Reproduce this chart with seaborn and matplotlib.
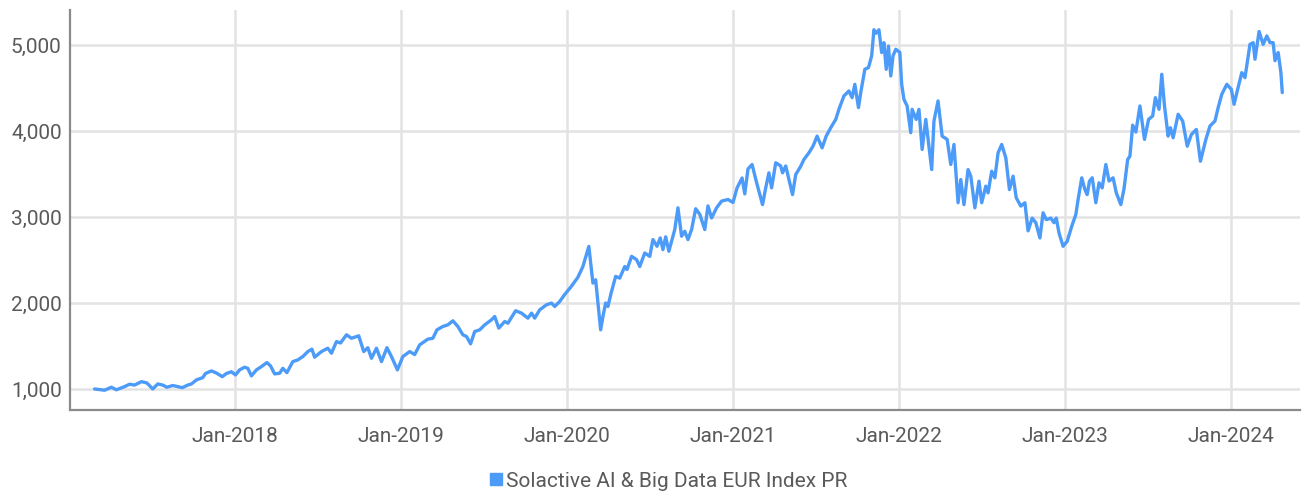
import pandas as pd
import numpy as np
import matplotlib
matplotlib.use("Agg")
import matplotlib.pyplot as plt
import matplotlib.dates as mdates
from matplotlib.ticker import FuncFormatter
from matplotlib.lines import Line2D
import seaborn as sns

# index level
dates = [
    "2017-02-27", "2017-03-21", "2017-04-05", "2017-04-16", "2017-05-04", "2017-05-15", "2017-05-26",
    "2017-06-10", "2017-06-22", "2017-07-05", "2017-07-16", "2017-07-27", "2017-08-05", "2017-08-18",
    "2017-09-08", "2017-09-20", "2017-09-28", "2017-10-09", "2017-10-23", "2017-10-29", "2017-11-11",
    "2017-11-22", "2017-12-05", "2017-12-14", "2017-12-25",
    "2018-01-03", "2018-01-12", "2018-01-23", "2018-01-30", "2018-02-07", "2018-02-18", "2018-03-01",
    "2018-03-13", "2018-03-21", "2018-03-30", "2018-04-10", "2018-04-17", "2018-04-26", "2018-05-09",
    "2018-05-20", "2018-05-31", "2018-06-11", "2018-06-20", "2018-06-26", "2018-07-11", "2018-07-25",
    "2018-08-02", "2018-08-13", "2018-08-22", "2018-09-04", "2018-09-15", "2018-10-01", "2018-10-12",
    "2018-10-21", "2018-10-29", "2018-11-09", "2018-11-20", "2018-12-02", "2018-12-12", "2018-12-25",
    "2019-01-06", "2019-01-21", "2019-02-01", "2019-02-12", "2019-03-02", "2019-03-13", "2019-03-22",
    "2019-04-04", "2019-04-15", "2019-04-26", "2019-05-07", "2019-05-18", "2019-05-26", "2019-06-04",
    "2019-06-13", "2019-06-24", "2019-07-05", "2019-07-20", "2019-07-27", "2019-08-05", "2019-08-18",
    "2019-08-25", "2019-09-11", "2019-09-24", "2019-10-08", "2019-10-16", "2019-10-23", "2019-11-03",
    "2019-11-18", "2019-11-29", "2019-12-06", "2019-12-17", "2019-12-28",
    "2020-01-11", "2020-01-26", "2020-02-06", "2020-02-19", "2020-02-28", "2020-03-05", "2020-03-16",
    "2020-03-21", "2020-03-27", "2020-04-01", "2020-04-08", "2020-04-18", "2020-04-27", "2020-05-08",
    "2020-05-13", "2020-05-23", "2020-06-03", "2020-06-10", "2020-06-21", "2020-07-02", "2020-07-09",
    "2020-07-18", "2020-07-25", "2020-07-31", "2020-08-06", "2020-08-13", "2020-08-22", "2020-08-26",
    "2020-09-02", "2020-09-10", "2020-09-17", "2020-09-24", "2020-10-02", "2020-10-11", "2020-10-20",
    "2020-10-31", "2020-11-07", "2020-11-15", "2020-11-26", "2020-12-07", "2020-12-21",
    "2021-01-01", "2021-01-10", "2021-01-21", "2021-01-27", "2021-02-03", "2021-02-12", "2021-02-22",
    "2021-03-07", "2021-03-14", "2021-03-21", "2021-03-27", "2021-04-05", "2021-04-16", "2021-04-20",
    "2021-04-27", "2021-05-04", "2021-05-12", "2021-05-19", "2021-05-30", "2021-06-06", "2021-06-17",
    "2021-06-26", "2021-07-05", "2021-07-16", "2021-07-25", "2021-08-04", "2021-08-15", "2021-08-22",
    "2021-09-02", "2021-09-13", "2021-09-20", "2021-09-26", "2021-10-04", "2021-10-09", "2021-10-18",
    "2021-10-26", "2021-11-02", "2021-11-07", "2021-11-12", "2021-11-18", "2021-11-24", "2021-11-29",
    "2021-12-04", "2021-12-09", "2021-12-14", "2021-12-19", "2021-12-25",
    "2022-01-03", "2022-01-07", "2022-01-12", "2022-01-19", "2022-01-27", "2022-01-30", "2022-02-08",
    "2022-02-14", "2022-02-21", "2022-03-01", "2022-03-14", "2022-03-19", "2022-03-28", "2022-04-06",
    "2022-04-17", "2022-04-25", "2022-05-02", "2022-05-11", "2022-05-17", "2022-05-24", "2022-06-02",
    "2022-06-08", "2022-06-17", "2022-06-26", "2022-07-02", "2022-07-11", "2022-07-16", "2022-07-24",
    "2022-07-31", "2022-08-07", "2022-08-15", "2022-08-24", "2022-09-01", "2022-09-09", "2022-09-16",
    "2022-09-26", "2022-10-05", "2022-10-12", "2022-10-21", "2022-10-29", "2022-11-07", "2022-11-14",
    "2022-11-21", "2022-12-01", "2022-12-08", "2022-12-13", "2022-12-19", "2022-12-28",
    "2023-01-06", "2023-01-16", "2023-01-25", "2023-01-30", "2023-02-07", "2023-02-14", "2023-02-19",
    "2023-02-24", "2023-03-02", "2023-03-10", "2023-03-17", "2023-03-24", "2023-04-01", "2023-04-08",
    "2023-04-17", "2023-04-24", "2023-05-04", "2023-05-11", "2023-05-19", "2023-05-24", "2023-05-30",
    "2023-06-06", "2023-06-15", "2023-06-25", "2023-07-04", "2023-07-13", "2023-07-19", "2023-07-27",
    "2023-08-02", "2023-08-08", "2023-08-16", "2023-08-21", "2023-08-27", "2023-09-07", "2023-09-17",
    "2023-09-27", "2023-10-06", "2023-10-17", "2023-10-26", "2023-11-07", "2023-11-16", "2023-11-27",
    "2023-12-04", "2023-12-12", "2023-12-23",
    "2024-01-02", "2024-01-08", "2024-01-15", "2024-01-25", "2024-02-01", "2024-02-06", "2024-02-12",
    "2024-02-19", "2024-02-23", "2024-03-03", "2024-03-12", "2024-03-20", "2024-03-27", "2024-04-03",
    "2024-04-07", "2024-04-14", "2024-04-20", "2024-04-23",
]
values = [
    1000, 985, 1020, 990, 1027, 1055, 1045,
    1085, 1070, 1000, 1058, 1045, 1020, 1040,
    1015, 1045, 1058, 1105, 1132, 1180, 1210,
    1185, 1143, 1180, 1200,
    1163, 1222, 1253, 1240, 1152, 1222, 1260,
    1307, 1268, 1175, 1183, 1240, 1190, 1318,
    1338, 1377, 1435, 1463, 1370, 1435, 1474,
    1416, 1551, 1535, 1630, 1590, 1618, 1435,
    1480, 1357, 1474, 1318, 1480, 1377, 1222,
    1377, 1435, 1400, 1513, 1580, 1590, 1688,
    1727, 1746, 1793, 1727, 1630, 1610, 1525,
    1668, 1688, 1746, 1805, 1843, 1708, 1785,
    1765, 1910, 1882, 1824, 1882, 1824, 1921,
    1980, 1999, 1960, 2018, 2100,
    2190, 2300, 2425, 2659, 2232, 2270, 1688,
    1843, 2000, 1960, 2115, 2310, 2290, 2425,
    2390, 2543, 2505, 2425, 2582, 2543, 2738,
    2660, 2757, 2621, 2770, 2602, 2777, 2855,
    3108, 2777, 2835, 2738, 2855, 3097, 3032,
    2855, 3130, 2990, 3108, 3186, 3205,
    3170, 3340, 3455, 3270, 3560, 3612, 3400,
    3145, 3340, 3515, 3340, 3632, 3595, 3515,
    3595, 3437, 3262, 3495, 3592, 3670, 3748,
    3825, 3942, 3806, 3942, 4040, 4137, 4254,
    4410, 4468, 4390, 4545, 4274, 4449, 4720,
    4740, 4876, 5180, 5140, 5180, 4915, 5030,
    4720, 4990, 4642, 4876, 4953,
    4915, 4545, 4370, 4293, 3982, 4254, 4137,
    4254, 3787, 4137, 3553, 4118, 4352, 3942,
    3904, 3612, 3845, 3167, 3437, 3145, 3553,
    3476, 3108, 3418, 3167, 3360, 3282, 3534,
    3457, 3748, 3845, 3690, 3320, 3476, 3224,
    3128, 3167, 2840, 2988, 2935, 2757, 3050,
    2970, 2988, 2935, 2988, 2815, 2660,
    2718, 2893, 3030, 3205, 3457, 3320, 3262,
    3418, 3457, 3167, 3399, 3340, 3612, 3420,
    3457, 3282, 3145, 3330, 3670, 3709, 4070,
    3990, 4293, 3904, 4137, 4176, 4390, 4254,
    4662, 4293, 3942, 4040, 3923, 4196, 4118,
    3825, 3960, 4020, 3650, 3904, 4060, 4118,
    4274, 4429, 4545,
    4487, 4312, 4468, 4681, 4623, 4797, 5010,
    5030, 4837, 5160, 5010, 5108, 5030, 5030,
    4820, 4915, 4681, 4449,
]
series_name = "Solactive AI & Big Data EUR Index PR"
y_ticks = [1000, 2000, 3000, 4000, 5000]

df = pd.DataFrame({"date": pd.to_datetime(dates), "value": values})

sns.set_theme(style="white")
plt.rcParams["font.family"] = ["Roboto", "DejaVu Sans"]

line_color = "#4c9bf8"
grid_color = "#e3e3e3"
text_color = "#5a5a5a"

fig = plt.figure(figsize=(13.04, 4.96), dpi=100)
ax = fig.add_axes([70 / 1304, 1 - 410 / 496, 1230 / 1304, 400 / 496])

sns.lineplot(data=df, x="date", y="value", ax=ax, color=line_color, linewidth=2.4)

ax.set_xlim(pd.Timestamp("2017-01-04"), pd.Timestamp("2024-06-01"))
ax.set_ylim(755, 5410)
ax.set_yticks(y_ticks)
ax.yaxis.set_major_formatter(FuncFormatter(lambda v, p: f"{v:,.0f}"))
ax.xaxis.set_major_locator(mdates.YearLocator())
ax.xaxis.set_major_formatter(mdates.DateFormatter("%b-%Y"))

ax.grid(True, color=grid_color, linewidth=1.8)
ax.set_axisbelow(True)
ax.tick_params(axis="both", length=0, labelsize=15, colors=text_color)
ax.tick_params(axis="x", pad=12)
ax.tick_params(axis="y", pad=6)
ax.set_xlabel("")
ax.set_ylabel("")

for s in ["top", "right"]:
    ax.spines[s].set_visible(False)
for s in ["left", "bottom"]:
    ax.spines[s].set_color("#8a8a8a")
    ax.spines[s].set_linewidth(1.6)

handle = Line2D([], [], marker="s", linestyle="", color=line_color, markersize=8)
fig.legend([handle], [series_name], loc="center", bbox_to_anchor=(0.512, 0.03),
           frameon=False, fontsize=15, labelcolor=text_color, handletextpad=0.1,
           handlelength=0.8)

fig.savefig("out.png", dpi=100)
